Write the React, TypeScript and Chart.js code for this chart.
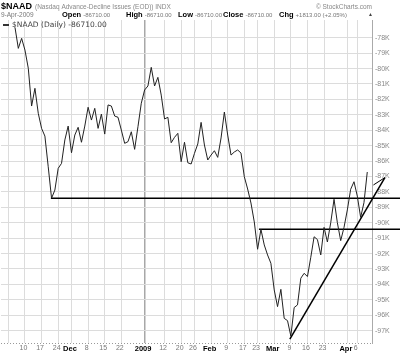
import React, { useEffect, useRef } from "react";
import { Chart, registerables } from "chart.js";
Chart.register(...registerables);

// Trading days from 5-Nov-2008 (index 0) to 9-Apr-2009 (index 106)
const naadValues: number[] = [
  -77330, -78690, -78040, -78800, -79980, -82430, -81280, -82900, -83880, -84380,
  -86370, -88410, -87880, -86470, -86150, -84630, -83730, -85460, -84310, -83810,
  -84780, -83730, -82510, -83340, -82580, -83880, -82950, -84250, -82360, -82430,
  -83080, -83160, -83990, -84850, -84740, -84100, -85240, -83770, -82250, -81390,
  -81130, -79920, -81130, -80570, -81720, -83270, -83160, -84810, -84460, -84200,
  -86040, -84780, -86110, -86190, -85500, -84890, -83490, -84960, -85930, -85610,
  -85330, -85760, -84500, -82820, -84310, -85610, -85410, -85280, -85480, -87010,
  -87810, -88720, -89950, -91720, -90430, -91440, -92090, -92630, -94360, -95440,
  -94320, -96200, -96350, -97350, -95500, -95330, -93600, -93280, -93490, -92240,
  -90910, -91090, -92090, -90300, -91250, -90000, -88480, -90000, -91160, -90300,
  -89170, -87830, -87340, -88270, -89650, -88700, -86710,
];

// x-axis ticks (trading-day index) and labels
const tickDays: number[] = [-2, 3, 8, 13, 17, 22, 27, 32, 39, 45, 50, 54, 59, 64, 69, 73, 78, 83, 88, 93, 100, 103];
const tickLabels: string[] = ["", "10", "17", "24", "Dec", "8", "15", "22", "2009", "12", "20", "26", "Feb", "9", "17", "23", "Mar", "9", "16", "23", "Apr", "6"];
const boldLabels: string[] = ["Dec", "2009", "Feb", "Mar", "Apr"];
const yearTickDay = 39;

// y-axis ticks
const yTicks: number[] = [-97000, -96000, -95000, -94000, -93000, -92000, -91000, -90000, -89000, -88000, -87000, -86000, -85000, -84000, -83000, -82000, -81000, -80000, -79000, -78000];

// annotation lines (day index, value)
const support1X: number[] = [10.8, 116];
const support1Y: number[] = [-88410, -88410];
const support2X: number[] = [73.4, 116];
const support2Y: number[] = [-90430, -90430];
const trendX: number[] = [82.7, 111.3];
const trendY: number[] = [-97550, -87070];
const arrowX: number[] = [107.85, 111.3, 112.2];
const arrowY: number[] = [-87550, -87070, -88270];

const headerTitle = "$NAAD";
const headerDesc = "(Nasdaq Advance-Decline Issues (EOD)) INDX";
const headerBrand = "\u00A9 StockCharts.com";
const headerDate = "9-Apr-2009";
const quoteNames: string[] = ["Open", "High", "Low", "Close", "Chg"];
const quoteValues: string[] = ["-86710.00", "-86710.00", "-86710.00", "-86710.00", "+1813.00 (+2.05%)"];
const legendText = "$NAAD (Daily) -86710.00";

const F = "'Liberation Sans', Arial, sans-serif";

const toPts = (xs: number[], ys: number[]) => xs.map((x, i) => ({ x, y: ys[i] }));

const headerPlugin = {
  id: "header",
  beforeDraw(chart: any) {
    const c = chart.ctx;
    c.save();
    c.fillStyle = "#fff";
    c.fillRect(0, 0, chart.width, chart.height);
    c.restore();
  },
  beforeDatasetsDraw(chart: any) {
    const c: CanvasRenderingContext2D = chart.ctx;
    const a = chart.chartArea;
    c.save();
    c.strokeStyle = "#999";
    c.lineWidth = 1;
    c.setLineDash([1, 2]);
    c.beginPath();
    c.moveTo(a.left, Math.round(a.bottom) + 0.5);
    c.lineTo(a.right, Math.round(a.bottom) + 0.5);
    c.stroke();
    c.restore();
  },
  afterDraw(chart: any) {
    const c: CanvasRenderingContext2D = chart.ctx;
    c.save();
    c.textBaseline = "alphabetic";
    c.textAlign = "left";
    c.font = `bold 9px ${F}`;
    c.fillStyle = "#000";
    c.fillText(headerTitle, 1, 9);
    const tw = c.measureText(headerTitle).width;
    c.font = `6.5px ${F}`;
    c.fillStyle = "#888";
    c.fillText(headerDesc, 1 + tw + 3, 9);
    c.textAlign = "right";
    c.fillText(headerBrand, 372, 9);
    c.textAlign = "left";
    c.fillStyle = "#777";
    c.font = `6.5px ${F}`;
    c.fillText(headerDate, 1, 17);
    const qx = [62, 126, 178, 223, 279];
    quoteNames.forEach((n, i) => {
      c.font = `bold 7.5px ${F}`;
      c.fillStyle = "#000";
      c.fillText(n, qx[i], 17);
      const w = c.measureText(n).width;
      c.font = `6px ${F}`;
      c.fillStyle = "#777";
      c.fillText(quoteValues[i], qx[i] + w + 2, 17);
    });
    c.font = `5px ${F}`;
    c.fillStyle = "#444";
    c.fillText("\u25B2", 368, 16);
    // legend
    c.strokeStyle = "#333";
    c.lineWidth = 2;
    c.beginPath();
    c.moveTo(3, 25);
    c.lineTo(9, 25);
    c.stroke();
    c.font = `7.5px 'DejaVu Sans', sans-serif`;
    c.fillStyle = "#444";
    c.textBaseline = "middle";
    c.fillText(legendText, 12, 25.5);
    c.restore();
  },
};

export default function App() {
  const ref = useRef<HTMLCanvasElement>(null);
  useEffect(() => {
    document.body.style.margin = "0";
    const chart = new Chart(ref.current as HTMLCanvasElement, {
      type: "line",
      data: {
        datasets: [
          {
            label: "$NAAD",
            data: naadValues.map((v, i) => ({ x: i, y: v })),
            borderColor: "#222",
            borderWidth: 1,
            pointRadius: 0,
            tension: 0,
          },
          {
            label: "s1",
            data: toPts(support1X, support1Y),
            borderColor: "#000",
            borderWidth: 1.5,
            pointRadius: 0,
            clip: false as any,
          },
          {
            label: "s2",
            data: toPts(support2X, support2Y),
            borderColor: "#000",
            borderWidth: 1.5,
            pointRadius: 0,
            clip: false as any,
          },
          {
            label: "trend",
            data: toPts(trendX, trendY),
            borderColor: "#000",
            borderWidth: 1.5,
            pointRadius: 0,
            clip: false as any,
          },
          {
            label: "arrow",
            data: toPts(arrowX, arrowY),
            borderColor: "#000",
            borderWidth: 1,
            pointRadius: 0,
            clip: false as any,
          },
        ],
      },
      options: {
        animation: false,
        responsive: false,
        devicePixelRatio: 1,
        layout: { padding: { top: 20, left: 1, right: 0, bottom: 0 } },
        plugins: { legend: { display: false }, tooltip: { enabled: false } },
        scales: {
          x: {
            type: "linear",
            min: -4.21,
            max: 107.42,
            afterBuildTicks: (axis: any) => {
              axis.ticks = tickDays.map((v) => ({ value: v }));
            },
            afterFit: (axis: any) => {
              axis.height = 10;
            },
            grid: {
              drawTicks: false,
              color: (ctx: any) => (tickDays[ctx.index] === yearTickDay ? "#a8a8a8" : "#dcdcdc"),
              lineWidth: (ctx: any) => (tickDays[ctx.index] === yearTickDay ? 1.5 : 1),
            },
            border: { display: false },
            ticks: {
              autoSkip: false,
              maxRotation: 0,
              padding: 1,
              labelOffset: -1.5,
              callback: (_v: any, i: number) => tickLabels[i],
              font: (ctx: any) => {
                const lab = tickLabels[ctx.index];
                const b = boldLabels.indexOf(lab) >= 0;
                return { family: F, size: b ? 7.5 : 7, weight: b ? "bold" : "normal" } as any;
              },
              color: (ctx: any) => (boldLabels.indexOf(tickLabels[ctx.index]) >= 0 ? "#000" : "#777"),
            },
          },
          y: {
            type: "linear",
            position: "right",
            min: -97800,
            max: -76850,
            afterBuildTicks: (axis: any) => {
              axis.ticks = yTicks.map((v) => ({ value: v }));
            },
            afterFit: (axis: any) => {
              axis.width = 28;
            },
            grid: { drawTicks: false, color: "#dcdcdc" },
            border: { display: true, color: "#aaa" },
            ticks: {
              padding: 3,
              font: { family: F, size: 7 },
              color: "#888",
              callback: (v: any) => `${Math.round(Number(v) / 1000)}K`,
            },
          },
        },
      },
      plugins: [headerPlugin],
    });
    return () => chart.destroy();
  }, []);
  return (
    <canvas
      ref={ref}
      width={400}
      height={353}
      style={{ display: "block", width: 400, height: 353 }}
    />
  );
}
